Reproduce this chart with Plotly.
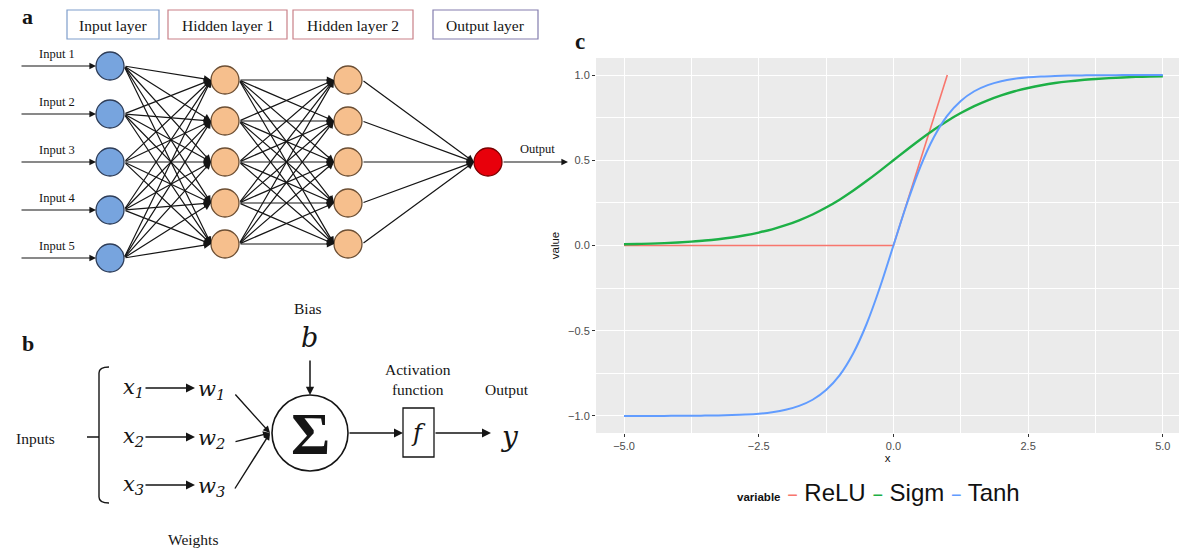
import plotly.graph_objects as go

# ---------------- data ----------------
# panel c: activation functions
x_grid = [-5.0, -4.75, -4.5, -4.25, -4.0, -3.75, -3.5, -3.25, -3.0, -2.75, -2.5,
          -2.25, -2.0, -1.75, -1.5, -1.25, -1.0, -0.75, -0.5, -0.25, 0.0,
          0.25, 0.5, 0.75, 1.0, 1.25, 1.5, 1.75, 2.0, 2.25, 2.5,
          2.75, 3.0, 3.25, 3.5, 3.75, 4.0, 4.25, 4.5, 4.75, 5.0]
sigm_vals = [0.007, 0.009, 0.011, 0.014, 0.018, 0.023, 0.029, 0.037, 0.047, 0.060, 0.076,
             0.095, 0.119, 0.148, 0.182, 0.223, 0.269, 0.321, 0.378, 0.438, 0.500,
             0.562, 0.622, 0.679, 0.731, 0.777, 0.818, 0.852, 0.881, 0.905, 0.924,
             0.940, 0.953, 0.963, 0.971, 0.977, 0.982, 0.986, 0.989, 0.991, 0.993]
tanh_vals = [-1.000, -1.000, -1.000, -1.000, -0.999, -0.999, -0.998, -0.997, -0.995, -0.992, -0.987,
             -0.978, -0.964, -0.941, -0.905, -0.848, -0.762, -0.635, -0.462, -0.245, 0.000,
             0.245, 0.462, 0.635, 0.762, 0.848, 0.905, 0.941, 0.964, 0.978, 0.987,
             0.992, 0.995, 0.997, 0.998, 0.999, 0.999, 1.000, 1.000, 1.000, 1.000]
relu_x = [-5.0, 0.0, 1.0]
relu_vals = [0.0, 0.0, 1.0]
series_names = ["ReLU", "Sigm", "Tanh"]
x_ticks = [-5.0, -2.5, 0.0, 2.5, 5.0]
y_ticks = [-1.0, -0.5, 0.0, 0.5, 1.0]

# panel a: network structure
layer_names = ["Input layer", "Hidden layer 1", "Hidden layer 2", "Output layer"]
layer_sizes = [5, 5, 5, 1]
input_labels = ["Input 1", "Input 2", "Input 3", "Input 4", "Input 5"]
output_label = "Output"

# panel b: perceptron
perc_inputs = ["<i>x<sub>1</sub></i>", "<i>x<sub>2</sub></i>", "<i>x<sub>3</sub></i>"]
perc_weights = ["<i>w<sub>1</sub></i>", "<i>w<sub>2</sub></i>", "<i>w<sub>3</sub></i>"]

# ---------------- styling / layout constants ----------------
W, H = 1179, 553
SERIF = "Liberation Serif"
SANS = "Liberation Sans"
INK = "#151515"
col_series = {"ReLU": "#F8766D", "Sigm": "#1DB046", "Tanh": "#619CFF"}
w_series = {"ReLU": 1.6, "Sigm": 2.4, "Tanh": 2.0}

layer_x = [110, 225, 348, 488]
layer_gap = [48, 41, 41, 0]
net_cy = 162
node_r = 14
node_fill = ["#77A4DE", "#F6BF8D", "#F6BF8D", "#E8000B"]
node_edge = ["#2E3D58", "#6B4E33", "#6B4E33", "#7A0000"]
header_box = [(67, 159), (168, 287), (293, 413), (433, 538)]
header_col = ["#7E9DCB", "#C98088", "#C98088", "#837DAE"]

fig = go.Figure()
annotations = []
shapes = []


def arrow(x0, y0, x1, y1, width=1.0, size=1.0, color=INK, head=2):
    return dict(x=x1, y=y1, ax=x0, ay=y0, xref="x", yref="y", axref="x", ayref="y",
                text="", showarrow=True, arrowhead=head, arrowsize=size,
                arrowwidth=width, arrowcolor=color, standoff=0, startstandoff=0)


def label(x, y, text, size=15, color=INK, family=SERIF, ref=("x", "y"), **kw):
    d = dict(x=x, y=y, xref=ref[0], yref=ref[1], text=text, showarrow=False,
             font=dict(family=family, size=size, color=color),
             xanchor="center", yanchor="middle")
    d.update(kw)
    return d


# ---------------- panel a ----------------
layer_ys = []
for n, gap in zip(layer_sizes, layer_gap):
    layer_ys.append([net_cy + (i - (n - 1) / 2) * gap for i in range(n)])

for li in range(len(layer_sizes) - 1):
    for ys in layer_ys[li]:
        for yt in layer_ys[li + 1]:
            annotations.append(arrow(layer_x[li] + node_r, ys, layer_x[li + 1] - node_r, yt,
                                     width=1.2, size=1.2))

for li, ys in enumerate(layer_ys):
    fig.add_trace(go.Scatter(
        x=[layer_x[li]] * len(ys), y=ys, mode="markers", xaxis="x", yaxis="y",
        marker=dict(size=2 * node_r, color=node_fill[li],
                    line=dict(color=node_edge[li], width=1.3)),
        showlegend=False, hoverinfo="skip"))

for (bx0, bx1), name, c in zip(header_box, layer_names, header_col):
    shapes.append(dict(type="rect", xref="x", yref="y", x0=bx0, x1=bx1, y0=10, y1=39,
                       line=dict(color=c, width=1.2), fillcolor="rgba(0,0,0,0)"))
    annotations.append(label((bx0 + bx1) / 2, 25, name, size=15.5))

for lab, y in zip(input_labels, layer_ys[0]):
    annotations.append(arrow(20, y, layer_x[0] - node_r, y, width=1.2, size=1.1))
    annotations.append(label(57, y - 12, lab, size=12.5))

oy = layer_ys[-1][0]
annotations.append(arrow(layer_x[-1] + node_r, oy, 568, oy, width=1.2, size=1.1))
annotations.append(label(537, oy - 13, output_label, size=12.5))
annotations.append(label(27, 16, "<b>a</b>", size=22))

# ---------------- panel b ----------------
row_y = [388, 437, 485]
sum_cx, sum_cy, sum_r = 310, 433, 38
for xs, ws, y in zip(perc_inputs, perc_weights, row_y):
    annotations.append(label(133, y, xs, size=21, family="DejaVu Serif"))
    annotations.append(label(211, y + 2, ws, size=21, family="DejaVu Serif"))
    annotations.append(arrow(144, y, 195, y, width=1.5, size=1.2))
    annotations.append(arrow(234, y + 5, sum_cx - sum_r - 2, sum_cy, width=1.4, size=1.0))

fig.add_trace(go.Scatter(
    x=[sum_cx], y=[sum_cy], mode="markers", xaxis="x", yaxis="y",
    marker=dict(size=2 * sum_r, color="white", line=dict(color=INK, width=1.6)),
    showlegend=False, hoverinfo="skip"))
annotations.append(label(sum_cx, sum_cy + 1, "<b>Σ</b>", size=60, family=SERIF))

annotations.append(label(308, 308, "Bias", size=15.5))
annotations.append(label(309, 337, "<i>b</i>", size=27, family="DejaVu Serif"))
annotations.append(arrow(310, 359, 310, sum_cy - sum_r, width=1.5, size=1.1))

shapes.append(dict(type="rect", xref="x", yref="y", x0=403, x1=434, y0=408, y1=457,
                   line=dict(color=INK, width=1.3), fillcolor="white"))
annotations.append(label(418.5, 433, "<i>f</i>", size=24, family="DejaVu Serif"))
annotations.append(arrow(sum_cx + sum_r, sum_cy, 403, sum_cy, width=1.5, size=1.2))
annotations.append(arrow(434, sum_cy, 491, sum_cy, width=1.5, size=1.2))
annotations.append(label(509, 436, "<i>y</i>", size=28, family="DejaVu Serif"))
annotations.append(label(418, 379, "Activation<br>function", size=15.5))
annotations.append(label(507, 389, "Output", size=15.5))
annotations.append(label(35, 438, "Inputs", size=15.5))
annotations.append(label(193, 539, "Weights", size=15.5))
annotations.append(label(28, 343, "<b>b</b>", size=22))

shapes.append(dict(type="path", xref="x", yref="y",
                   path="M 109,367 Q 99,367 99,373 L 99,497 Q 99,503 109,503 M 87,437 L 99,437",
                   line=dict(color=INK, width=1.4)))

# ---------------- panel c ----------------
fig.add_trace(go.Scatter(x=relu_x, y=relu_vals, mode="lines", name=series_names[0],
                         xaxis="x2", yaxis="y2",
                         line=dict(color=col_series["ReLU"], width=w_series["ReLU"])))
fig.add_trace(go.Scatter(x=x_grid, y=sigm_vals, mode="lines", name=series_names[1],
                         xaxis="x2", yaxis="y2",
                         line=dict(color=col_series["Sigm"], width=w_series["Sigm"], shape="spline")))
fig.add_trace(go.Scatter(x=x_grid, y=tanh_vals, mode="lines", name=series_names[2],
                         xaxis="x2", yaxis="y2",
                         line=dict(color=col_series["Tanh"], width=w_series["Tanh"], shape="spline")))

shapes.append(dict(type="rect", xref="x2 domain", yref="y2 domain", x0=0, x1=1, y0=0, y1=1,
                   fillcolor="#EBEBEB", line=dict(width=0), layer="below"))

annotations.append(label(580 / W, 1 - 41 / H, "<b>c</b>", size=23, ref=("paper", "paper")))

legend_txt = ('<b><span style="font-size:11.5px">variable</span></b> '
              + ' '.join(f'<span style="color:{col_series[n]};font-size:18px">−</span> {n}'
                         for n in series_names))
annotations.append(label(878 / W, 1 - 492 / H, legend_txt, size=24, family=SANS,
                         ref=("paper", "paper"), color="#111"))

axis_c = dict(showline=False, zeroline=False, gridcolor="white", gridwidth=1.1,
              ticks="outside", ticklen=3, tickcolor="#333", tickwidth=1,
              tickfont=dict(family=SANS, size=11, color="#4D4D4D"),
              tickformat=".1f", fixedrange=True)

fig.update_layout(
    width=W, height=H, margin=dict(l=0, r=0, t=0, b=0),
    paper_bgcolor="white", plot_bgcolor="rgba(0,0,0,0)",
    showlegend=False,
    xaxis=dict(domain=[0, 590 / W], range=[0, 590], visible=False, fixedrange=True),
    yaxis=dict(domain=[0, 1], range=[H, 0], visible=False, fixedrange=True),
    xaxis2=dict(domain=[596 / W, 1], range=[-5.52, 5.3], anchor="y2",
                tickvals=x_ticks,
                minor=dict(dtick=1.25, tick0=0, showgrid=True, gridcolor="white", gridwidth=0.5),
                title=dict(text="x", standoff=0, font=dict(family=SANS, size=11.5, color="#111")),
                **axis_c),
    yaxis2=dict(domain=[1 - 433 / H, 1 - 58 / H], range=[-1.1, 1.1], anchor="x2",
                tickvals=y_ticks,
                minor=dict(dtick=0.25, tick0=0, showgrid=True, gridcolor="white", gridwidth=0.5),
                title=dict(text="value", standoff=6, font=dict(family=SANS, size=11.5, color="#111")),
                **axis_c),
    annotations=annotations,
    shapes=shapes,
)

fig.write_html("out.html", config={"displayModeBar": False},
               post_script="document.body.style.margin='0';document.body.style.overflow='hidden';")
